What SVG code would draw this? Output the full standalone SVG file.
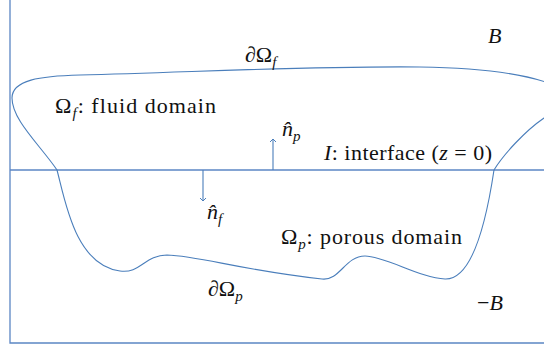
<svg xmlns="http://www.w3.org/2000/svg" width="544" height="347" viewBox="0 0 544 347">
<defs>
<style>
.ln{fill:none;stroke:#4a7ebb;stroke-width:1.1}
.ax{fill:none;stroke:#5b86c4;stroke-width:1.3}
.t{font-family:"Liberation Serif","DejaVu Serif",serif;font-size:22px;fill:#111}
.i{font-style:italic}
.s{font-size:15px;font-style:italic}
</style>
<marker id="ah" markerWidth="8" markerHeight="8" refX="4" refY="4" orient="auto" markerUnits="userSpaceOnUse">
<path d="M1,1 L4,4 L1,7" fill="none" stroke="#4a7ebb" stroke-width="1"/>
</marker>
</defs>
<rect width="544" height="347" fill="#fff"/>
<g id="axes">
<path class="ax" d="M10,0 V343 H544"/>
<path class="ax" d="M10,170 H544"/>
</g>
<g id="connectors">
<path class="ln" d="M57,170 C40,145 12,120 12,98 C12,80 40,76 80,75 C200,72 300,66 420,67 C505,68 570,80 590,110 C600,125 565,108 544,118 C525,131 503,155 494,170"/>
<path class="ln" d="M57,170 C65,200 75,265 120,271 C140,274 145,255 167,255 C200,256 240,270 322,279 C340,281 345,256 365,256 C385,256 420,278 445,279 C470,280 485,230 494,170"/>
<path class="ln" d="M203,170 V201" marker-end="url(#ah)"/>
<path class="ln" d="M273,170 V139" marker-end="url(#ah)"/>
</g>
<g id="labels">
<text class="t" x="245" y="62">∂Ω<tspan class="s" dy="5">f</tspan></text>
<text class="t i" x="488" y="43">B</text>
<text class="t" x="55" y="113" textLength="161" lengthAdjust="spacing">Ω<tspan class="s" dy="5">f</tspan><tspan dy="-5">: fluid domain</tspan></text>
<text class="t i" x="282" y="136">n̂<tspan class="s" dy="5">p</tspan></text>
<text class="t" x="324" y="160" textLength="168" lengthAdjust="spacing"><tspan class="i">I</tspan>: interface (<tspan class="i">z</tspan> = 0)</text>
<text class="t i" x="207" y="219">n̂<tspan class="s" dy="5">f</tspan></text>
<text class="t" x="281" y="244" textLength="181" lengthAdjust="spacing">Ω<tspan class="s" dy="5">p</tspan><tspan dy="-5">: porous domain</tspan></text>
<text class="t" x="208" y="296">∂Ω<tspan class="s" dy="5">p</tspan></text>
<text class="t" x="477" y="310">−<tspan class="i">B</tspan></text>
</g>
</svg>
